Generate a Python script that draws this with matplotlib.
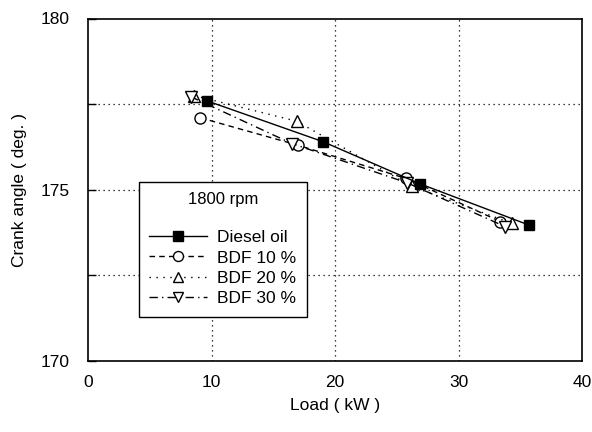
import matplotlib
matplotlib.use("Agg")
import matplotlib.pyplot as plt
from matplotlib.ticker import MultipleLocator

plt.rcParams['font.family'] = ['Liberation Sans', 'DejaVu Sans']

# Data
diesel_x = [9.6, 19.05, 26.9, 35.7]
diesel_y = [177.6, 176.4, 175.17, 173.97]
bdf10_x = [9.1, 17.0, 25.75, 33.4]
bdf10_y = [177.1, 176.3, 175.33, 174.07]
bdf20_x = [8.6, 16.9, 26.2, 34.3]
bdf20_y = [177.75, 177.0, 175.1, 174.02]
bdf30_x = [8.3, 16.5, 25.85, 33.8]
bdf30_y = [177.72, 176.35, 175.2, 173.92]
labels = ["Diesel oil", "BDF 10 %", "BDF 20 %", "BDF 30 %"]

fig = plt.figure(figsize=(5.92, 4.32), dpi=100)
ax = fig.add_axes([88/592, 1-361/432, (582-88)/592, (361-18.5)/432])

ms = 7.5
ax.plot(diesel_x, diesel_y, '-', color='black', lw=1.0, marker='s', ms=ms,
        mfc='black', mec='black', label=labels[0], zorder=5)
ax.plot(bdf10_x, bdf10_y, color='black', lw=1.0, ls=(0, (4, 3)), marker='o', ms=ms+0.5,
        mfc='white', mec='black', label=labels[1], zorder=4)
ax.plot(bdf20_x, bdf20_y, color='black', lw=1.0, ls=(0, (1, 4)), marker='^', ms=ms+0.5,
        mfc='white', mec='black', label=labels[2], zorder=4)
ax.plot(bdf30_x, bdf30_y, color='black', lw=1.0, ls=(0, (6, 3, 1, 3)), marker='v', ms=ms+0.5,
        mfc='white', mec='black', label=labels[3], zorder=4)

ax.set_xlim(0, 40)
ax.set_ylim(170, 180)
ax.xaxis.set_major_locator(MultipleLocator(10))
ax.yaxis.set_major_locator(MultipleLocator(5))
ax.yaxis.set_minor_locator(MultipleLocator(2.5))
ax.tick_params(axis='both', which='both', direction='in', labelsize=12.5, length=6, width=1)
ax.tick_params(axis='x', which='major', length=0, pad=10)
ax.tick_params(axis='y', which='both', pad=13)

for v in [10, 20, 30]:
    ax.axvline(v, color='black', lw=0.9, ls=(0, (1, 3)), zorder=1)
for v in [172.5, 175, 177.5]:
    ax.axhline(v, color='black', lw=0.9, ls=(0, (1, 3)), zorder=1)

for s in ax.spines.values():
    s.set_linewidth(1.2)

ax.set_xlabel("Load ( kW )", fontsize=12.5, labelpad=6)
ax.set_ylabel("Crank angle ( deg. )", fontsize=12.5, labelpad=10)

leg = ax.legend(loc='upper left', bbox_to_anchor=((139-88)/494, (361-182)/342.5),
                title="1800 rpm\n", fontsize=12.5, title_fontsize=12,
                frameon=True, fancybox=False, edgecolor='black', framealpha=1,
                handlelength=3.3, handletextpad=0.6, labelspacing=0.3,
                borderpad=0.6, borderaxespad=0, markerscale=0.9)
leg.get_frame().set_linewidth(1.0)
leg.set_zorder(10)

fig.savefig("out.png", dpi=100)
